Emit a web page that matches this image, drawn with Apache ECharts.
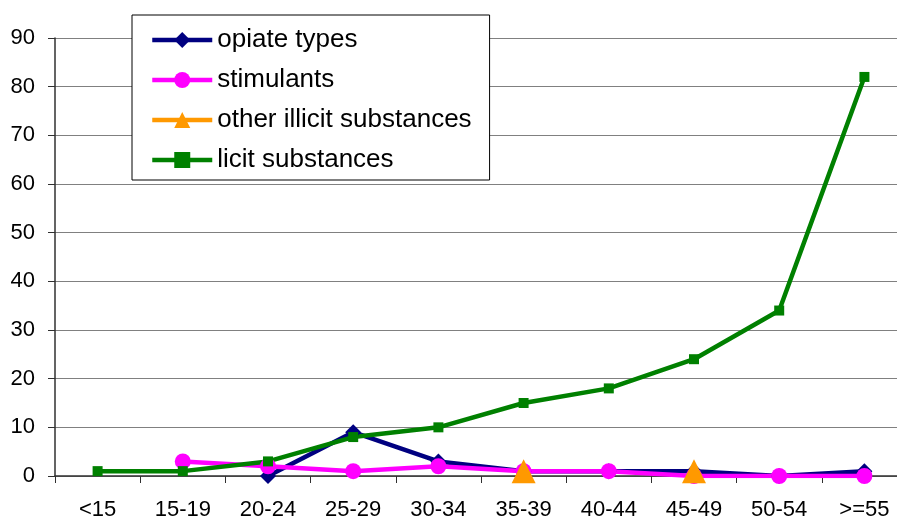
<!DOCTYPE html>
<html>
<head>
<meta charset="utf-8">
<script src="https://cdn.jsdelivr.net/npm/echarts@6/dist/echarts.min.js"></script>
<style>
  html, body { margin: 0; padding: 0; background: #fff; overflow: hidden; }
  /* the plot runs a little past the right edge of the window, as in the original */
  #chart { width: 907px; height: 521px; }
</style>
</head>
<body>
<div id="chart"></div>
<script>
// age groups
const ageGroups = ['<15', '15-19', '20-24', '25-29', '30-34', '35-39', '40-44', '45-49', '50-54', '>=55']
// series values (null = no point)
const opiateTypes = [null, null, 0, 9, 3, 1, 1, 1, 0, 1]
const stimulants = [null, 3, 2, 1, 2, 1, 1, 0, 0, 0]
const otherIllicit = [null, null, null, null, null, 1, null, 1, null, null]
const licitSubstances = [1, 1, 3, 8, 10, 15, 18, 24, 34, 82]
const yTicks = { min: 0, max: 90, interval: 10 }

const font = 'Liberation Sans, Arial, sans-serif'

function lineSeries(name, data, color, symbol, size) {
  return {
    name,
    type: 'line',
    data,
    symbol,
    symbolSize: size,
    connectNulls: false,
    lineStyle: { color, width: 4.5 },
    itemStyle: { color },
  }
}

const chart = echarts.init(document.getElementById('chart'))
chart.setOption({
  animation: false,
  textStyle: { fontFamily: font },
  grid: { left: 55, top: 38, right: 0, height: 438, containLabel: false },
  legend: {
    orient: 'vertical',
    left: 132,
    top: 15,
    padding: [12, 18, 7, 18],
    itemWidth: 60,
    itemHeight: 20,
    itemGap: 14,
    backgroundColor: '#fff',
    borderColor: '#000',
    borderWidth: 1,
    lineStyle: { width: 4.5 },
    textStyle: { fontSize: 26, color: '#000', fontFamily: font },
    data: ['opiate types', 'stimulants', 'other illicit substances', 'licit substances'],
  },
  xAxis: {
    type: 'category',
    data: ageGroups,
    boundaryGap: true,
    axisLine: { lineStyle: { color: '#303030', width: 1.5 } },
    axisTick: { show: true, length: 7, lineStyle: { color: '#303030' } },
    axisLabel: { fontSize: 22, color: '#000', margin: 23, interval: 0 },
    splitLine: { show: false },
  },
  yAxis: {
    type: 'value',
    min: yTicks.min,
    max: yTicks.max,
    interval: yTicks.interval,
    axisLine: { show: true, lineStyle: { color: '#303030', width: 1.5 } },
    axisTick: { show: true, length: 7, lineStyle: { color: '#303030' } },
    axisLabel: { fontSize: 22, color: '#000', margin: 20 },
    splitLine: { lineStyle: { color: '#808080', width: 1 } },
  },
  series: [
    lineSeries('opiate types', opiateTypes, '#000080', 'diamond', 16),
    lineSeries('stimulants', stimulants, '#ff00ff', 'circle', 16),
    lineSeries('other illicit substances', otherIllicit, '#ff9900', 'triangle', 24),
    lineSeries('licit substances', licitSubstances, '#008000', 'rect', 10),
  ],
})
</script>
</body>
</html>
